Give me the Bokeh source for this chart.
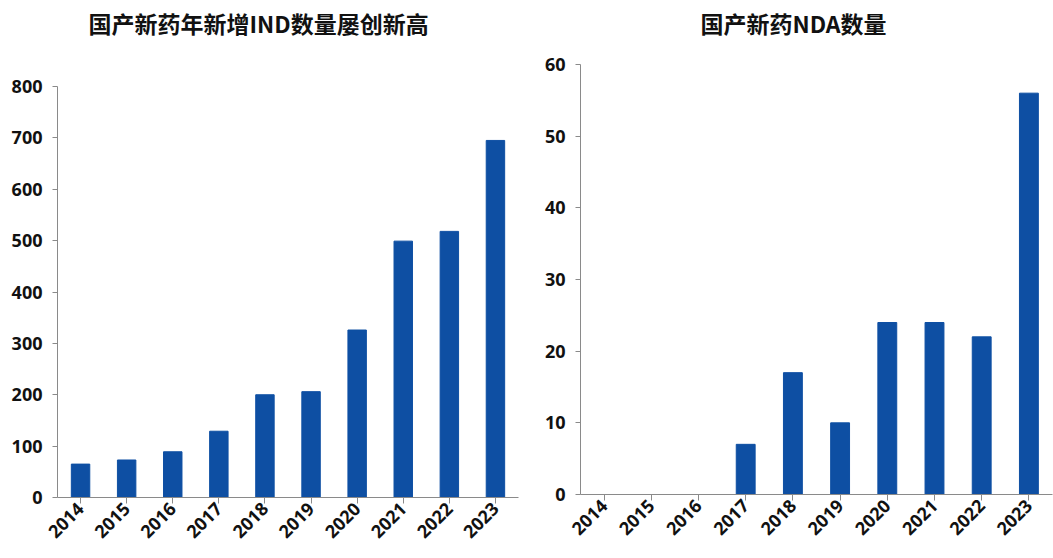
from bokeh.plotting import figure
from bokeh.layouts import row, column
from bokeh.models import Range1d, FixedTicker, Title
from bokeh.embed import file_html
from bokeh.resources import INLINE

years = ["2014", "2015", "2016", "2017", "2018", "2019", "2020", "2021", "2022", "2023"]
ind_values = [65, 73, 89, 129, 200, 206, 326, 499, 518, 695]
nda_values = [0, 0, 0, 7, 17, 10, 24, 24, 22, 56]
title_left = "国产新药年新增IND数量屡创新高"
title_right = "国产新药NDA数量"
ticks_left = [0, 100, 200, 300, 400, 500, 600, 700, 800]
ticks_right = [0, 10, 20, 30, 40, 50, 60]

BAR = "#0E4FA3"
AXIS = "#8a8a8a"
TICK_FONT = "Open Sans"
TITLE_FONT = "Noto Sans CJK SC"


def make(title, vals, ymax, ticks, width, left, right, bottom, t_off,
         spacer_size, spacer_stand):
    p = figure(x_range=years, y_range=Range1d(0, ymax), width=width, height=558,
               output_backend="svg", toolbar_location=None, title=None,
               min_border_left=left, min_border_right=right,
               min_border_top=0, min_border_bottom=bottom)
    p.vbar(x=years, top=vals, width=0.4, fill_color=BAR, line_color=BAR)
    spacer = Title(text=" ", text_font=TITLE_FONT, text_font_size=spacer_size,
                   standoff=spacer_stand)
    p.add_layout(spacer, "above")
    t = Title(text=title, align="left", offset=t_off, standoff=6,
              text_font=TITLE_FONT, text_font_size="23px",
              text_font_style="bold", text_color="#111111")
    p.add_layout(t, "above")
    p.outline_line_color = None
    p.xgrid.grid_line_color = None
    p.ygrid.grid_line_color = None
    p.x_range.range_padding = 0.0
    for ax in (p.xaxis[0], p.yaxis[0]):
        ax.axis_line_color = AXIS
        ax.major_tick_line_color = AXIS
        ax.minor_tick_line_color = None
        ax.major_label_text_font = TICK_FONT
        ax.major_label_text_font_style = "bold"
        ax.major_label_text_font_size = "18px"
        ax.major_label_text_color = "#111111"
        ax.major_tick_in = 0
    p.yaxis[0].ticker = FixedTicker(ticks=ticks)
    p.yaxis[0].major_tick_out = 5
    p.yaxis[0].major_label_standoff = 10
    p.xaxis[0].major_tick_out = 6
    p.xaxis[0].major_label_orientation = 0.785398
    p.xaxis[0].major_label_standoff = 2
    return p


p1 = make(title_left, ind_values, 800, ticks_left, 528, 57, 10, 61, 31, "23px", 8)
p2 = make(title_right, nda_values, 60, ticks_right, 525, 52, 1, 64, 120, "14px", 0)

layout = row(column(p1), column(p2))
open("out.html", "w").write(file_html(layout, INLINE))
